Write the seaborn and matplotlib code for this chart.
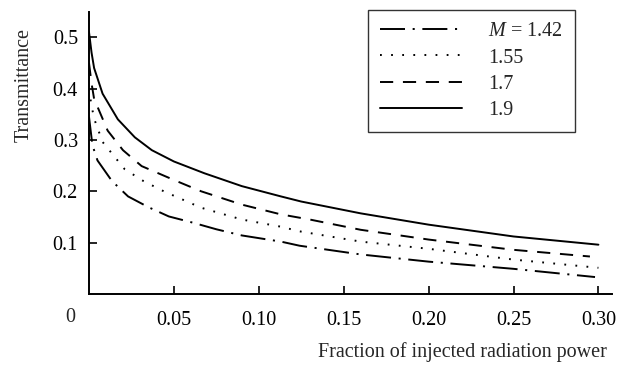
import matplotlib
matplotlib.use("Agg")
import matplotlib.pyplot as plt
import seaborn as sns
import pandas as pd

# values
x_142 = [0, 0.002, 0.005, 0.0135, 0.023, 0.035, 0.047, 0.061, 0.075, 0.09, 0.113, 0.124, 0.16, 0.2, 0.25, 0.298]
y_142 = [0.345, 0.29, 0.26, 0.22, 0.19, 0.169, 0.151, 0.139, 0.126, 0.114, 0.102, 0.094, 0.077, 0.063, 0.049, 0.033]

x_155 = [0, 0.0015, 0.0035, 0.008, 0.021, 0.032, 0.044, 0.066, 0.09, 0.113, 0.124, 0.16, 0.2, 0.25, 0.3]
y_155 = [0.40, 0.365, 0.337, 0.296, 0.243, 0.22, 0.2, 0.168, 0.145, 0.131, 0.122, 0.102, 0.088, 0.067, 0.051]

x_17 = [0, 0.0015, 0.003, 0.011, 0.02, 0.031, 0.05, 0.066, 0.09, 0.113, 0.13, 0.16, 0.2, 0.25, 0.295]
y_17 = [0.45, 0.41, 0.38, 0.318, 0.28, 0.249, 0.222, 0.2, 0.174, 0.155, 0.145, 0.125, 0.106, 0.086, 0.073]

x_19 = [0, 0.0015, 0.003, 0.008, 0.017, 0.027, 0.037, 0.05, 0.068, 0.09, 0.113, 0.125, 0.16, 0.2, 0.25, 0.3]
y_19 = [0.51, 0.47, 0.44, 0.39, 0.34, 0.305, 0.28, 0.258, 0.235, 0.21, 0.19, 0.18, 0.157, 0.135, 0.112, 0.096]

labels = ["$M$ = 1.42", "1.55", "1.7", "1.9"]
styles = [(0, (18, 5.5, 1.5, 5.5)), (0, (1.3, 6.7)), (0, (9.5, 7)), "-"]

sns.set_style("ticks")
plt.rcParams["font.family"] = ["Liberation Serif", "DejaVu Serif"]
plt.rcParams["mathtext.fontset"] = "custom"
plt.rcParams["mathtext.it"] = "Liberation Serif:italic"
plt.rcParams["mathtext.rm"] = "Liberation Serif"
plt.rcParams["lines.scale_dashes"] = False

fs = 14.5

fig = plt.figure(figsize=(6.24, 3.67), dpi=100)
ax = fig.add_axes([89 / 624, 1 - 294 / 367, (612 - 89) / 624, (294 - 12) / 367])

series = [(x_142, y_142), (x_155, y_155), (x_17, y_17), (x_19, y_19)]
for (xs, ys), lab, ls in zip(series, labels, styles):
    df = pd.DataFrame({"x": xs, "y": ys})
    sns.lineplot(data=df, x="x", y="y", ax=ax, color="black", linewidth=1.4,
                 linestyle=ls, label=lab)

ax.set_xlim(0, 0.308)
ax.set_ylim(0, 0.549)
ax.set_xticks([0.05, 0.10, 0.15, 0.20, 0.25, 0.30])
ax.set_xticklabels(["0.05", "0.10", "0.15", "0.20", "0.25", "0.30"])
ax.set_yticks([0.1, 0.2, 0.3, 0.4, 0.5])
ax.set_yticklabels(["0.1", "0.2", "0.3", "0.4", "0.5"])
ax.tick_params(direction="in", length=6, width=1.2, labelsize=fs, colors="black")
ax.tick_params(axis="x", pad=12)
ax.tick_params(axis="y", pad=8)
ax.set_xlabel("")
ax.set_ylabel("")
sns.despine(ax=ax)
for s in ["left", "bottom"]:
    ax.spines[s].set_linewidth(1.4)
    ax.spines[s].set_color("black")

ax.annotate("0", xy=(0, 0), xycoords="data", xytext=(-19, -23),
            textcoords="offset pixels", ha="center", va="center", fontsize=fs)

fig.text(24 / 624, 1 - 85 / 367, "Transmittance", rotation=90,
         ha="center", va="center", fontsize=fs)
fig.text(607 / 624, 1 - 352 / 367, "Fraction of injected radiation power",
         ha="right", va="center", fontsize=fs)

leg = ax.legend(loc="upper right",
                bbox_to_anchor=((575 - 89) / (612 - 89), (294 - 10) / (294 - 12)),
                borderaxespad=0, frameon=True, fancybox=False, fontsize=fs,
                handlelength=4.1, handletextpad=1.3, labelspacing=0.36,
                borderpad=0.6)
leg.get_frame().set_edgecolor("black")
leg.get_frame().set_linewidth(1.0)

fig.savefig("out.png", dpi=100)
